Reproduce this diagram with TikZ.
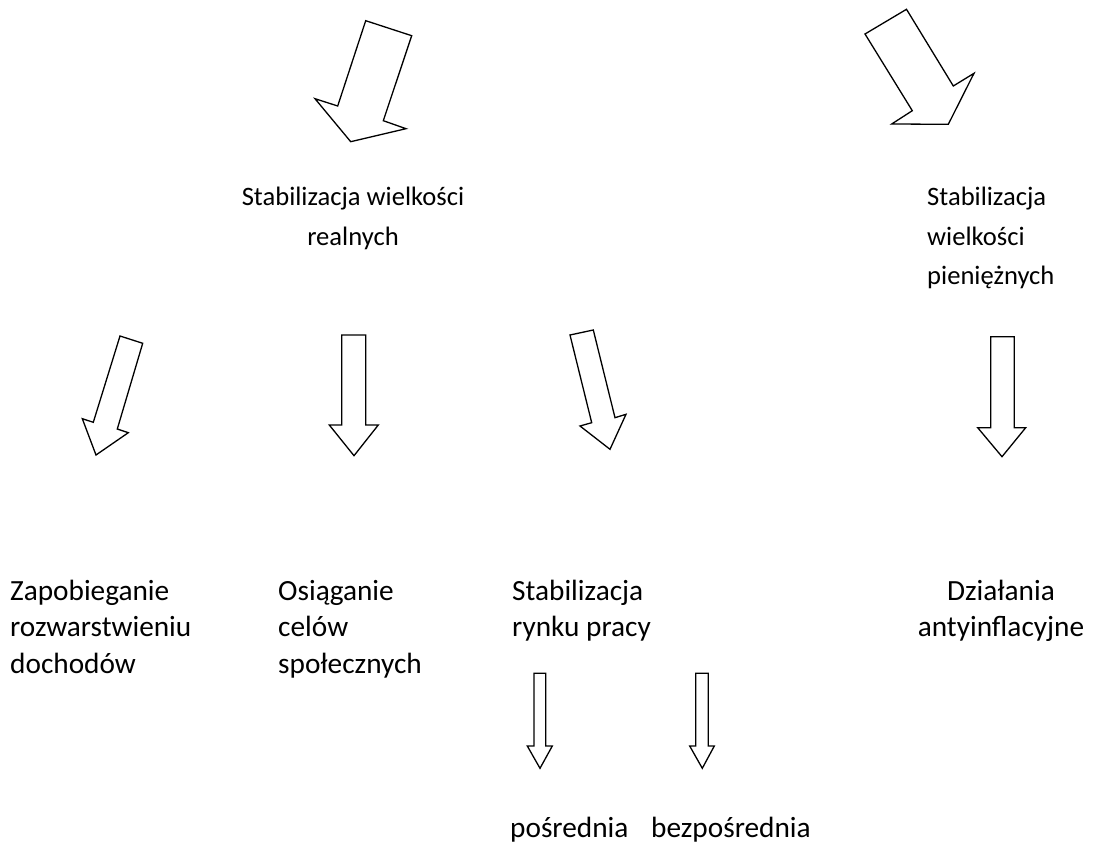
\documentclass[tikz,border=0pt]{standalone}
\usepackage{fontspec}
\setmainfont{Carlito}
\begin{document}
\begin{tikzpicture}[x=1pt,y=-1pt,
  blockarrow/.style={draw=black,line width=1.3pt,line join=miter,fill=white},
  smalltxt/.style={inner sep=0pt,font=\fontsize{26.6}{39.5}\selectfont},
  bigtxt/.style={inner sep=0pt,font=\fontsize{29.3}{36.5}\selectfont}]
\useasboundingbox (0,0) rectangle (1093,861);
% top arrows
\draw[blockarrow] (365.7,20.7) -- (411.7,35.7) -- (383.3,120.7) -- (406,128.7) -- (350.7,141.7) -- (315,98.7) -- (337.7,106) -- cycle;
\draw[blockarrow] (865,34) -- (906.5,9.3) -- (953.3,86) -- (974,73.3) -- (948.3,124.3) -- (891.7,124) -- (912.3,110.7) -- cycle;
% middle arrows
\draw[blockarrow] (120,336) -- (142.7,343.3) -- (117.3,429) -- (128.3,432.7) -- (96,455) -- (82.3,418.7) -- (93.3,422.3) -- cycle;
\draw[blockarrow] (341.7,335) -- (365.7,335) -- (365.7,425) -- (378.3,425) -- (354,455.7) -- (329.3,425) -- (341.7,425) -- cycle;
\draw[blockarrow] (570,335) -- (593.3,330) -- (615,417.7) -- (626,414.3) -- (610,449.3) -- (580,426) -- (591.7,422.7) -- cycle;
\draw[blockarrow] (990.7,336.7) -- (1014.3,336.7) -- (1014.3,427.7) -- (1025.7,427.7) -- (1002,456.7) -- (977.7,427.7) -- (990.7,427.7) -- cycle;
% bottom arrows
\draw[blockarrow] (534,673.3) -- (545.7,673.3) -- (545.7,746) -- (552.3,746) -- (540,768.3) -- (527.3,746) -- (534,746) -- cycle;
\draw[blockarrow] (695.7,673.3) -- (708.3,673.3) -- (708.3,746) -- (714.3,746) -- (702.3,768.3) -- (689.7,746) -- (695.7,746) -- cycle;
% texts
\node[smalltxt,anchor=base] (real) at (353,206) {\parbox[t]{300pt}{\centering Stabilizacja wielkości\\realnych}};
\node[smalltxt,anchor=base west] (pien) at (927,206) {\parbox[t]{160pt}{\raggedright Stabilizacja\\wielkości\\pieniężnych}};
\node[bigtxt,anchor=base west] (zap) at (10,600) {\parbox[t]{200pt}{\raggedright Zapobieganie\\rozwarstwieniu\\dochodów}};
\node[bigtxt,anchor=base west] (osi) at (278,600) {\parbox[t]{200pt}{\raggedright Osiąganie\\celów\\społecznych}};
\node[bigtxt,anchor=base west] (ryn) at (512,600) {\parbox[t]{200pt}{\raggedright Stabilizacja\\rynku pracy}};
\node[bigtxt,anchor=base] (dzi) at (1001,600) {\parbox[t]{200pt}{\centering Działania\\antyinflacyjne}};
\node[bigtxt,anchor=base west] (pos) at (510,837) {pośrednia};
\node[bigtxt,anchor=base west] (bez) at (651,837) {bezpośrednia};
\end{tikzpicture}
\end{document}
